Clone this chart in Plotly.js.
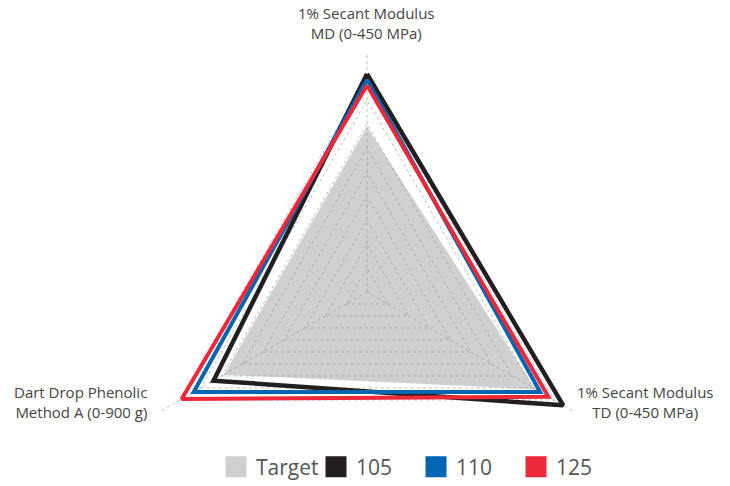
<!DOCTYPE html>
<html><head><meta charset="utf-8">
<script src="https://cdn.plot.ly/plotly-3.0.1.min.js"></script>
<style>html,body{margin:0;padding:0;overflow:hidden;background:#fff}#chart{width:730px;height:540px}</style>
</head><body><div id="chart"></div>
<script>
const axisLabelLines = [["1% Secant Modulus", "MD (0-450 MPa)"], ["1% Secant Modulus", "TD (0-450 MPa)"], ["Dart Drop Phenolic", "Method A (0-900 g)"]];
const axisMax = [450, 450, 900];
const seriesNames = ["Target", "105", "110", "125"];
const target = [310, 365, 620];
const s105 = [409, 425, 665];
const s110 = [398, 375, 751];
const s125 = [388, 393, 803];
const seriesColors = ["#d0d0d0", "#231f20", "#0065b3", "#ed2839"];

const axisLabels = axisLabelLines.map(l => l.join(' '));
const allSeries = [target, s105, s110, s125];
function norm(vals) {
  const r = vals.map((v, i) => v / axisMax[i]);
  return r.concat([r[0]]);
}
const theta = axisLabels.concat([axisLabels[0]]);
const traces = [];
allSeries.forEach((vals, k) => {
  const t = {
    type: 'scatterpolar', r: norm(vals), theta: theta, mode: 'lines',
    name: seriesNames[k], showlegend: false, hoverinfo: 'skip'
  };
  if (k === 0) {
    t.fill = 'toself';
    t.fillcolor = 'rgba(150,150,150,0.45)';
    t.line = {width: 0, color: 'rgba(0,0,0,0)'};
  } else {
    t.line = {width: k === 1 ? 4.5 : 4, color: seriesColors[k]};
  }
  traces.push(t);
});
seriesNames.forEach((n, k) => {
  traces.push({
    type: 'scatterpolar', r: [null], theta: [null], mode: 'markers', name: n,
    marker: {symbol: 'square', size: 16, color: seriesColors[k], line: {width: 5, color: seriesColors[k]}},
    showlegend: true
  });
});
const W = 730, H = 540;
// label anchor positions (px) for the angular axis titles
const labelPos = [
  {x: 366, y: 23, xanchor: 'center', align: 'center'},
  {x: 645, y: 402, xanchor: 'center', align: 'center'},
  {x: 149, y: 402, xanchor: 'right', align: 'right'}
];
const annotations = axisLabelLines.map((lines, i) => ({
  text: lines.join('<br>'), showarrow: false, xref: 'paper', yref: 'paper',
  x: labelPos[i].x / W, y: 1 - labelPos[i].y / H, xanchor: labelPos[i].xanchor, yanchor: 'middle',
  align: labelPos[i].align, font: {size: 15, color: '#444'}
}));
const layout = {
  width: W, height: H,
  margin: {l: 0, r: 0, t: 0, b: 0, pad: 0, autoexpand: false},
  paper_bgcolor: '#fff',
  font: {family: 'Open Sans, sans-serif', color: '#444'},
  showlegend: true,
  annotations: annotations,
  legend: {orientation: 'h', x: 216 / W, xanchor: 'left', y: 1 - 467 / H, yanchor: 'middle',
           entrywidth: 55, entrywidthmode: 'pixels',
           font: {size: 21, color: '#555'}, itemclick: false, traceorder: 'normal'},
  polar: {
    domain: {x: [127 / W, 607 / W], y: [1 - 532 / H, 1 - 52 / H]},
    gridshape: 'linear',
    bgcolor: 'rgba(0,0,0,0)',
    radialaxis: {range: [0, 1.0005], dtick: 0.1, tick0: 0, showticklabels: false, ticks: '',
                 showline: false, gridcolor: '#bdbdbd', griddash: '3px,3px', gridwidth: 1},
    angularaxis: {direction: 'clockwise', rotation: 90, showline: false, ticks: '', showticklabels: false,
                  gridcolor: '#bdbdbd', griddash: '3px,3px', gridwidth: 1}
  }
};
Plotly.newPlot('chart', traces, layout, {displayModeBar: false, staticPlot: true});
</script>
</body></html>
